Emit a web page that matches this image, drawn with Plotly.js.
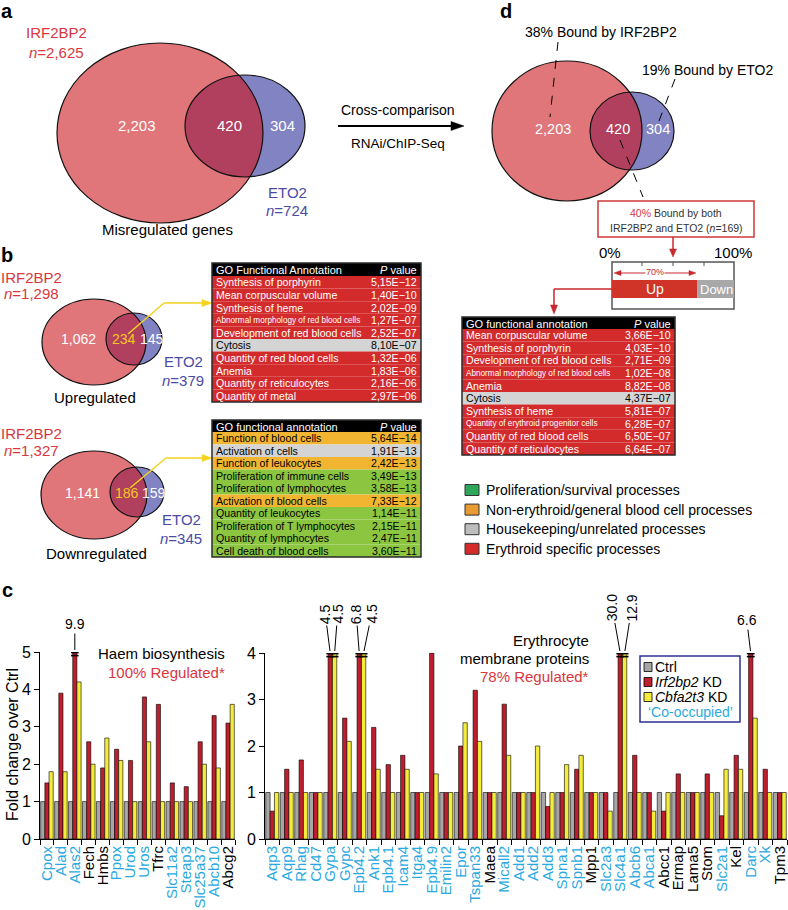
<!DOCTYPE html>
<html><head><meta charset="utf-8">
<script src="https://cdn.plot.ly/plotly-3.0.1.min.js"></script>
<style>html,body{margin:0;padding:0;background:#fff}#chart{width:788px;height:910px}</style>
</head><body><div id="chart"></div>
<script>
// ================= DATA =================
const haemGenes = ["Cpox","Alad","Alas2","Fech","Hmbs","Ppox","Urod","Uros","Tfrc","Slc11a2","Steap3","Slc25a37","Abcb10","Abcg2"];
const haemCtrl = [1,1,1,1,1,1,1,1,1,1,1,1,1,1];
const haemIrf2bp2 = [1.5,3.9,9.9,2.6,1.9,2.4,2.1,3.8,3.6,1.5,1.4,2.6,3.3,3.1];
const haemCbfa2t3 = [1.8,1.8,4.2,2.0,2.7,2.1,1.0,2.6,1.0,1.0,1.0,2.0,1.9,3.6];
const haemCoOccupied = [1,1,1,0,0,1,1,1,0,1,1,1,1,0];

const memGenes = ["Aqp3","Aqp9","Rhag","Cd47","Gypa","Gypc","Epb4.2","Ank1","Epb4.1","Icam4","Itga4","Epb4.9","Emilin2","Epor","Tspan33","Maea","Micall2","Add1","Add2","Add3","Spna1","Spnb1","Mpp1","Slc2a3","Slc4a1","Abcb6","Abca1","Abcc1","Ermap","Lama5","Stom","Slc2a1","Kel","Darc","Xk","Tpm3"];
const memCtrl = [1,1,1,1,1,1,1,1,1,1,1,1,1,1,1,1,1,1,1,1,1,1,1,1,1,1,1,1,1,1,1,1,1,1,1,1];
const memIrf2bp2 = [0.6,1.5,1.7,1.0,4.5,2.6,6.8,2.4,1.6,1.8,1.0,4.0,1.0,2.0,3.2,1.0,2.9,1.0,1.0,0.7,1.0,1.5,1.0,1.0,30.0,1.8,1.0,0.6,1.4,1.0,1.4,0.5,1.8,6.6,1.5,1.0];
const memCbfa2t3 = [1.0,1.0,1.0,1.0,4.5,2.1,4.5,1.5,1.0,1.5,1.0,1.4,1.0,2.5,2.1,1.0,1.8,1.0,2.0,1.0,1.6,1.8,1.0,0.6,12.9,1.0,0.6,1.0,1.0,1.0,1.0,1.5,1.5,2.6,1.0,1.0];
const memCoOccupied = [1,1,1,1,1,1,1,1,1,1,1,1,1,1,1,0,1,1,1,1,1,1,0,1,1,1,1,0,0,0,0,1,0,1,1,0];

const seriesNames = ["Ctrl","<i>Irf2bp2</i> KD","<i>Cbfa2t3</i> KD"];

const vennAllCounts = ["2,203","420","304"];
const vennUpCounts = ["1,062","234","145"];
const vennDownCounts = ["1,141","186","159"];

const upGoTerms = ["Synthesis of porphyrin","Mean corpuscular volume","Synthesis of heme","Abnormal morphology of red blood cells","Development of red blood cells","Cytosis","Quantity of red blood cells","Anemia","Quantity of reticulocytes","Quantity of metal"];
const upGoP = ["5,15E\u221212","1,40E\u221210","2,02E\u221209","1,27E\u221207","2,52E\u221207","8,10E\u221207","1,32E\u221206","1,83E\u221206","2,16E\u221206","2,97E\u221206"];
const upGoClass = ["E","E","E","E","E","H","E","E","E","E"];

const downGoTerms = ["Function of blood cells","Activation of cells","Function of leukocytes","Proliferation of immune cells","Proliferation of lymphocytes","Activation of blood cells","Quantity of leukocytes","Proliferation of T lymphocytes","Quantity of lymphocytes","Cell death of blood cells"];
const downGoP = ["5,64E\u221214","1,91E\u221213","2,42E\u221213","3,49E\u221213","3,58E\u221213","7,33E\u221212","1,14E\u221211","2,15E\u221211","2,47E\u221211","3,60E\u221211"];
const downGoClass = ["N","H","N","P","P","N","P","P","P","P"];

const bothGoTerms = ["Mean corpuscular volume","Synthesis of porphyrin","Development of red blood cells","Abnormal morphology of red blood cells","Anemia","Cytosis","Synthesis of heme","Quantity of erythroid progenitor cells","Quantity of red blood cells","Quantity of reticulocytes"];
const bothGoP = ["3,66E\u221210","4,03E\u221210","2,71E\u221209","1,02E\u221208","8,82E\u221208","4,37E\u221207","5,81E\u221207","6,28E\u221207","6,50E\u221207","6,64E\u221207"];
const bothGoClass = ["E","E","E","E","E","H","E","E","E","E"];

const classLegend = ["Proliferation/survival processes","Non-erythroid/general blood cell processes","Housekeeping/unrelated processes","Erythroid specific processes"];
const classKeys = ["P","N","H","E"];

// ================= STYLE / LAYOUT HELPERS =================
const W = 788, H = 910;
const FONT = "Liberation Sans, Arial, Helvetica, sans-serif";
const X = p => p / W;
const Y = p => 1 - p / H;
const shapes = [], annotations = [];
const CYAN = "#29A9E0", RED_T = "#D9363E", BLUE_T = "#4B4BA5";
const VRED = "#E0767A", VBLUE = "#8283C2", VOVER = "#B0405E";
const tableFill = {E:"#D32B2B", H:"#D4D4D4", N:"#F2B531", P:"#8CC540"};
const legendFill = {E:"#D42A2A", H:"#BDBDBD", N:"#E89B30", P:"#2FA75A"};
const BARC = ["#A6A6A6","#BF1E2E","#F4EC3C"];

function T(x, y, t, size, color, anchor, extra) {
  annotations.push(Object.assign({xref:"paper", yref:"paper", x:X(x), y:Y(y), text:t, showarrow:false,
    xanchor:anchor||"center", yanchor:"middle", font:{family:FONT, size:size, color:color||"#000"}}, extra||{}));
}
function R(x0, y0, x1, y1, fill, lc, lw) {
  shapes.push({type:"rect", xref:"paper", yref:"paper", x0:X(x0), x1:X(x1), y0:Y(y1), y1:Y(y0),
    fillcolor:fill||"rgba(0,0,0,0)", line:{color:lc||"rgba(0,0,0,0)", width:lw||0}});
}
function L(x0, y0, x1, y1, color, w, dash) {
  shapes.push({type:"line", xref:"paper", yref:"paper", x0:X(x0), x1:X(x1), y0:Y(y0), y1:Y(y1),
    line:{color:color||"#000", width:w||1, dash:dash||"solid"}});
}
function polyPath(pts) {
  return pts.map((p, i) => (i ? "L" : "M") + X(p[0]).toFixed(5) + "," + Y(p[1]).toFixed(5)).join(" ") + " Z";
}
function head(tx, ty, dir, len, wid, color) {
  let pts;
  if (dir === "r") pts = [[tx,ty],[tx-len,ty-wid/2],[tx-len,ty+wid/2]];
  else if (dir === "l") pts = [[tx,ty],[tx+len,ty-wid/2],[tx+len,ty+wid/2]];
  else pts = [[tx,ty],[tx-wid/2,ty-len],[tx+wid/2,ty-len]];
  shapes.push({type:"path", xref:"paper", yref:"paper", path:polyPath(pts), fillcolor:color, line:{color:color, width:0.5}});
}
function ell(e, fill, lc, lw) {
  shapes.push({type:"circle", xref:"paper", yref:"paper", x0:X(e.cx-e.rx), x1:X(e.cx+e.rx), y0:Y(e.cy+e.ry), y1:Y(e.cy-e.ry),
    fillcolor:fill||"rgba(0,0,0,0)", line:{color:lc||"rgba(0,0,0,0)", width:lw||0}});
}
function inside(e, p) { const a=(p[0]-e.cx)/e.rx, b=(p[1]-e.cy)/e.ry; return a*a+b*b <= 1.0001; }
function venn(A, B) {
  ell(A, VRED); ell(B, VBLUE);
  const pts = [];
  for (let i = 0; i < 360; i++) {
    const t = i * Math.PI / 180;
    const pa = [A.cx + A.rx*Math.cos(t), A.cy + A.ry*Math.sin(t)];
    const pb = [B.cx + B.rx*Math.cos(t), B.cy + B.ry*Math.sin(t)];
    if (inside(B, pa)) pts.push(pa);
    if (inside(A, pb)) pts.push(pb);
  }
  const cx = pts.reduce((s,p)=>s+p[0],0)/pts.length, cy = pts.reduce((s,p)=>s+p[1],0)/pts.length;
  pts.sort((p,q)=>Math.atan2(p[1]-cy,p[0]-cx)-Math.atan2(q[1]-cy,q[0]-cx));
  shapes.push({type:"path", xref:"paper", yref:"paper", path:polyPath(pts), fillcolor:VOVER, line:{width:0}});
  ell(A, null, "#111", 1.2); ell(B, null, "#111", 1.2);
}
function table(x0, x1, yTop, hH, rH, header, terms, pv, cls) {
  R(x0, yTop, x1, yTop+hH, "#000");
  T(x0+3, yTop+hH/2+0.5, header, 11, "#fff", "left", {borderpad:0});
  T(x1-3, yTop+hH/2+0.5, "<i>P</i> value", 11, "#fff", "right", {borderpad:0});
  terms.forEach((t, i) => {
    const y0 = yTop + hH + i*rH;
    R(x0, y0, x1, y0+rH, tableFill[cls[i]]);
    const col = cls[i] === "E" ? "#fff" : "#000";
    const small = t.length > 36 ? 8.2 : (t.length > 33 ? 9.4 : 10.6);
    T(x0+3, y0+rH/2, t, small, col, "left", {borderpad:0});
    T(x1-3, y0+rH/2, pv[i], 10.6, col, "right", {borderpad:0});
  });
  R(x0, yTop, x1, yTop+hH+terms.length*rH, null, "#2b2b2b", 1.5);
}

// ================= PANEL LETTERS =================
T(7, 11, "<b>a</b>", 20); T(7, 255, "<b>b</b>", 20); T(7, 590, "<b>c</b>", 20); T(506, 11, "<b>d</b>", 20);

// ================= PANEL a =================
venn({cx:160, cy:133, rx:103, ry:90}, {cx:245, cy:126, rx:60, ry:51});
T(57, 33, "IRF2BP2", 15, RED_T); T(57, 52, "<i>n</i>=2,625", 15, RED_T);
T(137, 126, vennAllCounts[0], 15, "#fff"); T(229, 126, vennAllCounts[1], 15, "#fff"); T(282, 126, vennAllCounts[2], 15, "#fff");
T(287, 192, "ETO2", 15, BLUE_T); T(287, 210, "<i>n</i>=724", 15, BLUE_T);
T(167, 229, "Misregulated genes", 15);
T(398, 110, "Cross-comparison", 14); T(398, 143, "RNAi/ChIP-Seq", 13.5);
L(338, 126, 452, 126, "#000", 2); head(464, 126, "r", 13, 9, "#000");

// ================= PANEL d =================
venn({cx:567, cy:131, rx:75, ry:70}, {cx:632, cy:131, rx:42, ry:39});
T(553, 129, vennAllCounts[0], 14.5, "#fff"); T(618, 129, vennAllCounts[1], 14.5, "#fff"); T(658, 129, vennAllCounts[2], 14.5, "#fff");
T(601, 32, "38% Bound by IRF2BP2", 14); T(707, 70, "19% Bound by ETO2", 14);
L(558, 42, 550, 117, "#000", 1, "dash"); L(675, 79, 659, 121, "#000", 1, "dash"); L(620, 140, 643, 197, "#000", 1, "dash");
R(598, 201, 754, 237, null, "#D03838", 1.5);
T(676, 213, "<span style='color:#D9363E'>40%</span> Bound by both", 10.5, "#333");
T(676, 228, "IRF2BP2 and ETO2 (<i>n</i>=169)", 10.5, "#333");
L(673, 237, 673, 250, "#C8282E", 1.5); head(673, 257, "d", 8, 7, "#C8282E");
T(610, 252, "0%", 15); T(733, 252, "100%", 15);
R(612, 262, 734, 309, "#fff", "#555", 1.5);
L(642, 262, 642, 266, "#555", 1); L(673, 262, 673, 266, "#555", 1); L(704, 262, 704, 266, "#555", 1);
L(620, 273, 690, 273, "#C8282E", 1); head(614, 273, "l", 7, 5, "#C8282E"); head(696, 273, "r", 7, 5, "#C8282E");
T(655, 272, "70%", 9, "#C8282E", "center", {bgcolor:"#fff", borderpad:0});
R(612, 280, 697, 298, "#D03328"); R(697, 280, 734, 298, "#A8A8A8");
T(655, 289, "Up", 14, "#fff"); T(716, 289, "Down", 13, "#fff");
L(612, 289, 554, 289, "#C8282E", 1.5); L(554, 289, 554, 306, "#C8282E", 1.5); head(554, 314, "d", 9, 7, "#C8282E");
table(462, 675, 317, 12, 12.6, "GO functional annotation", bothGoTerms, bothGoP, bothGoClass);

classLegend.forEach((t, i) => {
  const y = 490 + i*19.6;
  R(465, y-5.5, 479, y+5.5, legendFill[classKeys[i]], "#333", 1);
  T(484, y, t, 14, "#000", "left");
});

// ================= PANEL b =================
venn({cx:94, cy:342, rx:52, ry:43}, {cx:134, cy:339, rx:28, ry:26});
T(31, 277, "IRF2BP2", 15, RED_T); T(31, 294, "<i>n</i>=1,298", 15, RED_T);
T(78, 339, vennUpCounts[0], 14, "#fff"); T(124, 339, vennUpCounts[1], 14, "#F6C623"); T(152, 339, vennUpCounts[2], 14, "#fff");
T(183, 362, "ETO2", 15, BLUE_T); T(183, 380, "<i>n</i>=379", 15, BLUE_T);
T(95, 397, "Upregulated", 15);
L(128, 334, 164, 303, "#F5D21E", 1.5); L(164, 303, 202, 303, "#F5D21E", 1.5); head(212, 303, "r", 10, 7, "#F5D21E");
table(212, 421, 263, 13, 12.6, "GO Functional Annotation", upGoTerms, upGoP, upGoClass);

venn({cx:94, cy:495, rx:53, ry:44}, {cx:137, cy:492, rx:27, ry:25});
T(31, 433, "IRF2BP2", 15, RED_T); T(31, 450, "<i>n</i>=1,327", 15, RED_T);
T(82, 493, vennDownCounts[0], 14, "#fff"); T(127, 493, vennDownCounts[1], 14, "#F6C623"); T(154, 493, vennDownCounts[2], 14, "#fff");
T(181, 519, "ETO2", 15, BLUE_T); T(181, 538, "<i>n</i>=345", 15, BLUE_T);
T(96, 553, "Downregulated", 15);
L(130, 488, 166, 458, "#F5D21E", 1.5); L(166, 458, 202, 458, "#F5D21E", 1.5); head(212, 458, "r", 10, 7, "#F5D21E");
table(212, 421, 420, 12, 12.5, "GO functional annotation", downGoTerms, downGoP, downGoClass);

// ================= PANEL c (bar charts) =================
const BARGAP = 0.1;
const left = {x0:40, x1:235, yBot:839, yTop:652, max:5, xa:"x", ya:"y"};
const right = {x0:265, x1:787, yBot:839, yTop:653, max:4, xa:"x2", ya:"y2"};
const clip = (arr, m) => arr.map(v => Math.min(v, m));
const colored = (genes, flags) => genes.map((g, i) => flags[i] ? "<span style='color:" + CYAN + "'>" + g + "</span>" : g);

const traces = [];
function addBars(genes, seriesList, P) {
  seriesList.forEach((s, k) => {
    traces.push({type:"bar", x:genes, y:clip(s, P.max), name:seriesNames[k], xaxis:P.xa, yaxis:P.ya,
      marker:{color:BARC[k], line:{color:"#000", width:0.6}}, showlegend:false, hoverinfo:"skip"});
  });
}
addBars(haemGenes, [haemCtrl, haemIrf2bp2, haemCbfa2t3], left);
addBars(memGenes, [memCtrl, memIrf2bp2, memCbfa2t3], right);

const breakLabelPos = {
  "Alas2|1": {ax:0, ay:-28, ang:0},
  "Gypa|1": {ax:-5, ay:-39, ang:-90}, "Gypa|2": {ax:3, ay:-39, ang:-90},
  "Epb4.2|1": {ax:-3, ay:-39, ang:-90}, "Epb4.2|2": {ax:8, ay:-39, ang:-90},
  "Slc4a1|1": {ax:-8, ay:-45, ang:-90}, "Slc4a1|2": {ax:7, ay:-45, ang:-90},
  "Darc|1": {ax:-4, ay:-33, ang:0}
};
function breaks(genes, seriesList, P) {
  const w = (1 - BARGAP) / 3;
  const pxPerUnit = (P.yBot - P.yTop) / P.max;
  seriesList.forEach((s, k) => {
    s.forEach((v, i) => {
      if (v <= P.max) return;
      const xc = i + (k - 1) * w;
      [0.6, 3.6].forEach(d => {
        shapes.push({type:"line", xref:P.xa, yref:P.ya, x0:xc - w/2 - 0.12, x1:xc + w/2 + 0.12,
          y0:P.max - d/pxPerUnit, y1:P.max - d/pxPerUnit, line:{color:"#000", width:1.6}});
      });
      const pos = breakLabelPos[genes[i] + "|" + k] || {ax:0, ay:-30, ang:0};
      annotations.push({xref:P.xa, yref:P.ya, x:xc, y:P.max, text:v.toFixed(1), showarrow:true, arrowhead:0,
        arrowwidth:1, arrowcolor:"#000", standoff:2, ax:pos.ax, ay:pos.ay, textangle:pos.ang,
        font:{family:FONT, size:14, color:"#000"}});
    });
  });
}
breaks(haemGenes, [haemCtrl, haemIrf2bp2, haemCbfa2t3], left);
breaks(memGenes, [memCtrl, memIrf2bp2, memCbfa2t3], right);

T(227, 653, "Haem biosynthesis", 15, "#000", "right");
T(227, 672, "100% Regulated*", 15, RED_T, "right");
T(591, 640, "Erythrocyte", 15, "#000", "right");
T(591, 658, "membrane proteins", 15, "#000", "right");
T(591, 676, "78% Regulated*", 15, RED_T, "right");
T(12, 745, "Fold change over Ctrl", 16, "#000", "center", {textangle:-90});

// bar legend (box, keys, labels)
R(640, 656, 740, 722, null, "#2E3192", 1.5);
seriesNames.forEach((nm, k) => {
  const y = 667 + k*15;
  R(644, y-4.5, 652, y+4.5, BARC[k], "#000", 0.8);
  T(654, y, nm, 14, "#000", "left", {borderpad:0});
});
T(690, 712, "\u2018Co-occupied\u2019", 14, CYAN, "center", {borderpad:0});

function xAxis(P, genes, flags) {
  return {domain:[X(P.x0), X(P.x1)], anchor:P.ya, type:"category", range:[-0.5, genes.length - 0.5],
    tickmode:"array", tickvals:genes, ticktext:colored(genes, flags), tickangle:-90,
    tickfont:{family:FONT, size:15, color:"#000"}, showline:true, linecolor:"#000", linewidth:1,
    ticks:"outside", tickson:"boundaries", ticklen:5, tickcolor:"#000", showgrid:false, zeroline:false, fixedrange:true};
}
function yAxis(P) {
  return {domain:[Y(P.yBot), Y(P.yTop)], anchor:P.xa, range:[0, P.max], dtick:1, tick0:0, ticks:"outside",
    ticklen:5, tickcolor:"#000", showline:true, linecolor:"#000", linewidth:1, showgrid:false, zeroline:false,
    tickfont:{family:FONT, size:16, color:"#000"}, fixedrange:true};
}

const layout = {
  width:W, height:H, margin:{l:0, r:0, t:0, b:0}, paper_bgcolor:"#fff", plot_bgcolor:"rgba(0,0,0,0)",
  font:{family:FONT, color:"#000"},
  barmode:"group", bargap:BARGAP, bargroupgap:0,
  xaxis:xAxis(left, haemGenes, haemCoOccupied), yaxis:yAxis(left),
  xaxis2:xAxis(right, memGenes, memCoOccupied), yaxis2:yAxis(right),
  showlegend:false,
  shapes:shapes, annotations:annotations
};
Plotly.newPlot("chart", traces, layout, {displayModeBar:false, staticPlot:true});
</script></body></html>
